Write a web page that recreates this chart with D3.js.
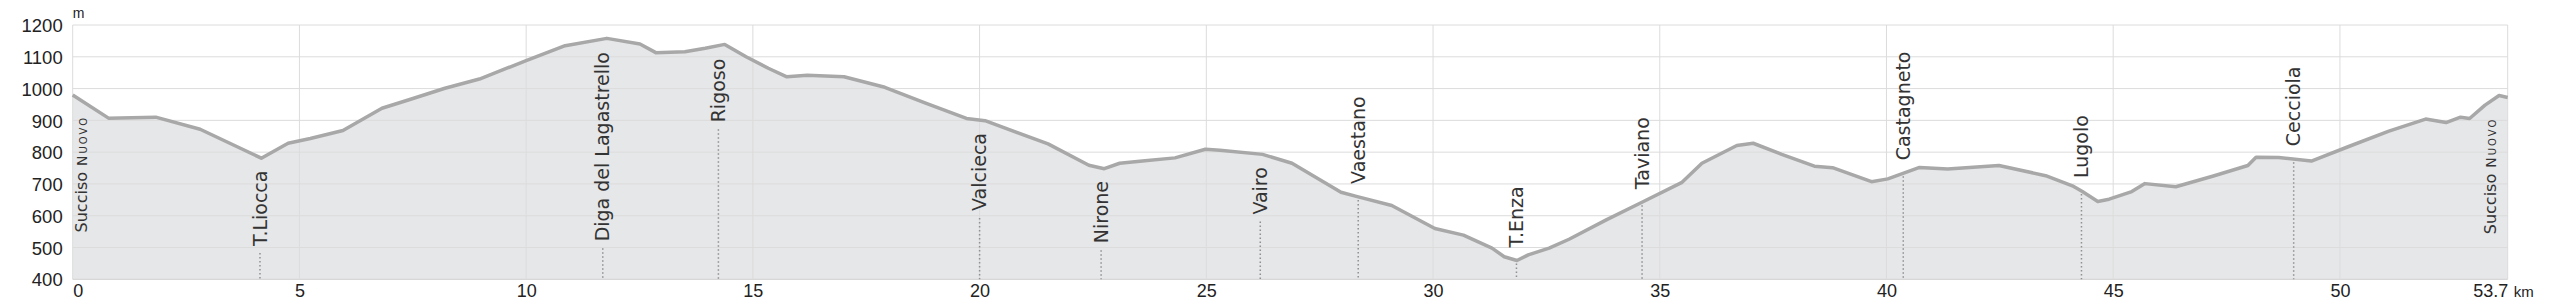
<!DOCTYPE html>
<html>
<head>
<meta charset="utf-8">
<script src="https://cdn.jsdelivr.net/npm/d3@7"></script>
<style>
body { margin: 0; background: #fff; }
</style>
</head>
<body>
<div id="chart"></div>
<script>
//---------------------------DATA--------------------------------//
// profile: distance (km) and elevation (m)
const distKm = [0, 0.79, 1.83, 2.81, 4.16, 4.75, 5.24, 5.96, 6.82, 7.40, 8.21, 8.97, 10.0, 10.86, 11.78,
  12.51, 12.86, 13.50, 13.95, 14.38, 14.85, 15.34, 15.75, 16.20, 17.01, 17.91, 18.81, 19.71, 20.12,
  21.51, 22.41, 22.75, 23.09, 23.59, 24.31, 24.98, 25.3, 26.24, 26.89, 27.97, 28.33, 29.09, 30.04,
  30.67, 31.30, 31.57, 31.85, 32.10, 32.56, 33.0, 33.82, 34.63, 35.48, 35.93, 36.70, 37.06, 37.69,
  38.41, 38.81, 39.67, 40.03, 40.73, 41.35, 42.48, 43.51, 44.10, 44.32, 44.66, 44.91, 45.41, 45.70,
  46.38, 47.21, 47.97, 48.15, 48.65, 49.37, 50.18, 51.08, 51.89, 52.34, 52.66, 52.86, 53.20, 53.51, 53.7];
const elevM = [980, 907, 910, 872, 781, 828, 843, 868, 938, 964, 1001, 1030, 1088, 1135, 1158,
  1140, 1113, 1116, 1127, 1139, 1100, 1064, 1037, 1042, 1037, 1004, 954, 906, 899,
  826, 759, 748, 765, 772, 782, 809, 806, 793, 765, 674, 660, 632, 560,
  539, 498, 471, 459, 477, 498, 526, 587, 644, 704, 765, 821, 828, 793,
  756, 751, 707, 716, 752, 747, 758, 726, 694, 676, 645, 652, 676, 701,
  691, 725, 758, 784, 783, 772, 817, 866, 904, 893, 910, 906, 948, 978, 972];

// places along the route
const placeNames = ["Succiso Nuovo", "T.Liocca", "Diga del Lagastrello", "Rigoso", "Valcieca", "Nirone",
  "Vairo", "Vaestano", "T.Enza", "Taviano", "Castagneto", "Lugolo", "Cecciola", "Succiso Nuovo"];
const placeKm = [0, 4.13, 11.69, 14.24, 20.0, 22.68, 26.19, 28.35, 31.84, 34.61, 40.37, 44.30, 48.98, 53.7];
// "below" = name under the profile line, "above" = name over it
const placeSide = ["below", "below", "below", "below", "below", "below", "below",
  "above", "above", "above", "above", "above", "above", "below"];

const yTicks = [400, 500, 600, 700, 800, 900, 1000, 1100, 1200];
const xTicks = [0, 5, 10, 15, 20, 25, 30, 35, 40, 45, 50, 53.7];

//---------------------------SVG---------------------------------//
const width = 2560;
const height = 308;
const plotL = 72.7, plotR = 2507.7, plotT = 25, plotB = 279.3;

const svg = d3.select("#chart").append("svg")
  .attr("width", width)
  .attr("height", height);

const xScale = d3.scaleLinear().domain([0, 53.7]).range([plotL, plotR]);
const yScale = d3.scaleLinear().domain([400, 1200]).range([plotB, plotT]);

const tickFont = "'Liberation Sans', Arial, sans-serif";
const nameFont = "'DejaVu Sans', sans-serif";

const profile = distKm.map((d, i) => ({ km: d, m: elevM[i] }));

//---------------------------AREA--------------------------------//
svg.append("path")
  .datum(profile)
  .attr("fill", "#e6e7e9")
  .attr("d", d3.area()
    .x(d => xScale(d.km))
    .y0(yScale(400))
    .y1(d => yScale(d.m)));

//---------------------------GRID--------------------------------//
svg.append("g")
  .selectAll("line")
  .data(yTicks)
  .join("line")
  .attr("x1", plotL).attr("x2", plotR)
  .attr("y1", d => yScale(d)).attr("y2", d => yScale(d))
  .attr("stroke", d => d === 400 ? "#cfcfcf" : "#dcdcdc")
  .attr("stroke-width", 1);

svg.append("g")
  .selectAll("line")
  .data(xTicks)
  .join("line")
  .attr("x1", d => xScale(d)).attr("x2", d => xScale(d))
  .attr("y1", plotT).attr("y2", plotB)
  .attr("stroke", "#dcdcdc")
  .attr("stroke-width", 1);

//---------------------------LINE--------------------------------//
svg.append("path")
  .datum(profile)
  .attr("fill", "none")
  .attr("stroke", "#a8a8a8")
  .attr("stroke-width", 3.5)
  .attr("stroke-linejoin", "round")
  .attr("d", d3.line()
    .x(d => xScale(d.km))
    .y(d => yScale(d.m)));

//---------------------------AXES--------------------------------//
const yAxis = d3.axisLeft(yScale).tickValues(yTicks).tickFormat(d3.format("d"))
  .tickSize(0).tickPadding(10);
const gy = svg.append("g")
  .attr("transform", "translate(" + plotL + ",0)")
  .call(yAxis);
gy.select(".domain").remove();
gy.selectAll("text")
  .attr("font-family", tickFont)
  .attr("font-size", 18.5)
  .attr("fill", "#222")
  .attr("dy", "0.36em");

const xAxis = d3.axisBottom(xScale).tickValues(xTicks).tickSize(0).tickPadding(0)
  .tickFormat(d => d === 53.7 ? "53.7" : d);
const gx = svg.append("g")
  .attr("transform", "translate(0," + plotB + ")")
  .call(xAxis);
gx.select(".domain").remove();
gx.selectAll("text")
  .attr("font-family", tickFont)
  .attr("font-size", 18)
  .attr("fill", "#222")
  .attr("y", 17.5)
  .attr("dy", 0)
  .attr("text-anchor", d => d === 0 ? "start" : d === 53.7 ? "end" : "middle");

svg.append("text")
  .attr("x", plotR + 6).attr("y", plotB + 17.5)
  .attr("font-family", tickFont).attr("font-size", 15).attr("fill", "#222")
  .text("km");

svg.append("text")
  .attr("x", plotL).attr("y", 18)
  .attr("font-family", tickFont).attr("font-size", 14).attr("fill", "#222")
  .text("m");

//---------------------------PLACES------------------------------//
function elevAt(km) {
  const i = Math.max(1, d3.bisectLeft(distKm, km));
  if (i >= distKm.length) return elevM[elevM.length - 1];
  const t = (km - distKm[i - 1]) / (distKm[i] - distKm[i - 1]);
  return elevM[i - 1] + t * (elevM[i] - elevM[i - 1]);
}

const lastKm = placeKm[placeKm.length - 1];
placeNames.forEach(function(name, i) {
  const km = placeKm[i];
  const isEnd = km === 0 || km === lastKm;
  let x = xScale(km);
  if (km === 0) x += 9;
  if (km === lastKm) x -= 17.5;
  const yLine = yScale(elevAt(isEnd ? (km === 0 ? 0.17 : 53.31) : km));
  const below = placeSide[i] === "below";
  const anchorY = below ? yLine + (isEnd ? 16 : 13) : yLine - 13;

  const t = svg.append("text")
    .attr("transform", "translate(" + x + "," + anchorY + ") rotate(-90)")
    .attr("text-anchor", below ? "end" : "start")
    .attr("dy", "0.35em")
    .attr("font-family", nameFont)
    .attr("fill", "#333");

  if (isEnd) {
    // town name with the smaller small-caps suffix
    const parts = name.split(" ");
    t.append("tspan").attr("font-size", 16).text(parts[0]);
    t.append("tspan").attr("font-size", 14).attr("dx", 6)
      .attr("letter-spacing", 2)
      .style("font-variant", "small-caps").text(parts[1]);
  } else {
    t.attr("font-size", 19).text(name);
  }

  if (isEnd) return;
  const len = t.node().getComputedTextLength();
  const yStart = below ? anchorY + len + 7 : yLine + 3;
  svg.append("line")
    .attr("x1", x).attr("x2", x)
    .attr("y1", yStart).attr("y2", plotB)
    .attr("stroke", "#909090")
    .attr("stroke-width", 1.5)
    .attr("stroke-dasharray", "1.5,2.5");
});
</script>
</body>
</html>
